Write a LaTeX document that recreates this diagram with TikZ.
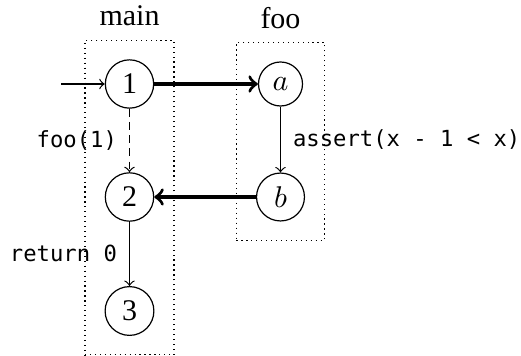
\documentclass[tikz,border=0pt]{standalone}
\usepackage{fontspec}
\setmainfont{Liberation Serif}
\newfontfamily\codefont{DejaVu Sans Mono}
\usetikzlibrary{fit}
\begin{document}
\begin{tikzpicture}[
  x=0.3333pt, y=-0.3333pt,
  state/.style={circle, draw, line width=0.4pt, inner sep=2.8pt,
    font=\fontsize{10}{12}\selectfont},
  flow/.style={->, line width=0.4pt},
  callret/.style={->, line width=1.1pt},
  calledge/.style={dash pattern=on 2.6pt off 1.8pt},
  frame/.style={draw, dash pattern=on 0.4pt off 1.25pt, line width=0.4pt,
    inner xsep=6.5pt, inner ysep=6.3pt},
  code/.style={font=\codefont\fontsize{7.4}{9}\selectfont, inner sep=4pt},
  title/.style={font=\fontsize{10}{12}\selectfont, anchor=south, inner sep=4.3pt}
]
\useasboundingbox (0,0) rectangle (521,356);

% control-flow states
\node[state] (n1) at (129.5,84) {1};
\node[state] (n2) at (129.5,197) {2};
\node[state] (n3) at (129.5,311) {3};
\node[state] (na) at (280.5,84) {$a$};
\node[state] (nb) at (280.5,197) {$b$};

% function frames
\node[frame, fit=(n1)(n2)(n3)] (mainbox) {};
\node[frame, fit=(na)(nb)] (foobox) {};
\node[title] (maintitle) at (mainbox.north) {main};
\node[title] (footitle) at (foobox.north) {foo};

% edges
\coordinate (entry) at (61,84);
\draw[flow] (entry) -- (n1);
\draw[callret] (n1) -- (na);
\draw[flow, calledge] (n1) -- node[code, left] (lcall) {foo(1)} (n2);
\draw[flow] (na) -- node[code, right] (lassert) {assert(x - 1 < x)} (nb);
\draw[callret] (nb) -- (n2);
\draw[flow] (n2) -- node[code, left] (lret) {return 0} (n3);
\end{tikzpicture}
\end{document}
